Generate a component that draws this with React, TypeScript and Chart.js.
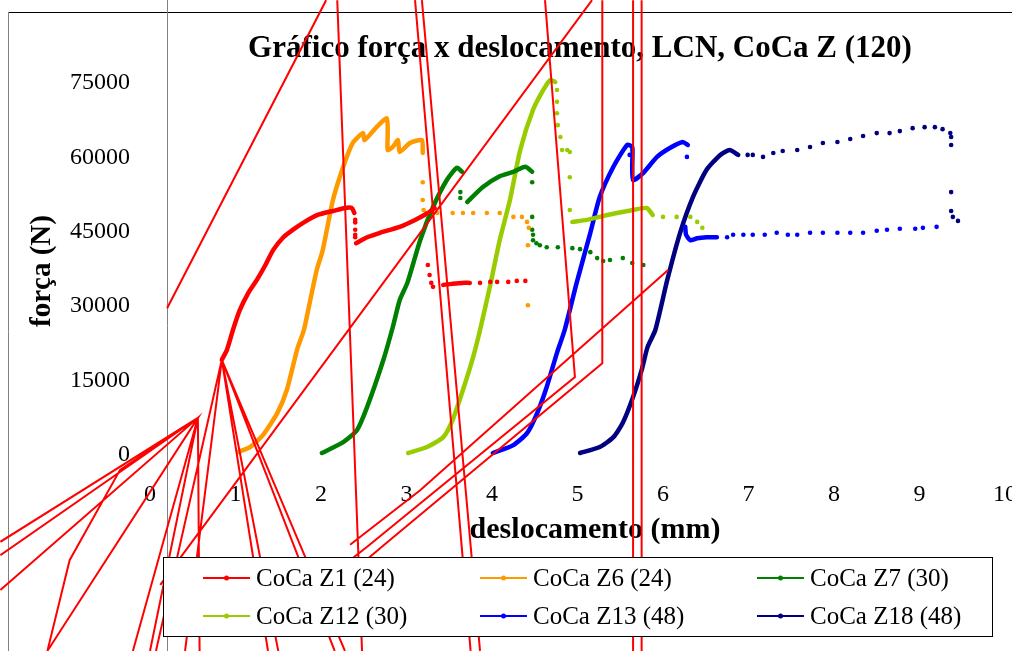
import React, { useEffect, useRef } from 'react';
import { Chart, registerables } from 'chart.js';

Chart.register(...registerables);

type P = [number, number] | null;

const chartTitle = 'Gráfico força x deslocamento, LCN, CoCa Z (120)';
const xTitle = 'deslocamento (mm)';
const yTitle = 'força (N)';
const xTicks = [0, 1, 2, 3, 4, 5, 6, 7, 8, 9, 10];
const yTicks = [0, 15000, 30000, 45000, 60000, 75000];
const seriesNames = ['CoCa Z1 (24)', 'CoCa Z6 (24)', 'CoCa Z7 (30)', 'CoCa Z12 (30)', 'CoCa Z13 (48)', 'CoCa Z18 (48)'];
const seriesColors = ['#FF0000', '#FF9900', '#008000', '#99CC00', '#0000FF', '#000080'];

// [deslocamento (mm), força (N)] ; null = break in the dense trace
const z1Curve: P[] = [
  [0.84, 19200], [0.90, 21200], [0.97, 25200], [1.05, 29200], [1.15, 32700], [1.25, 35300],
  [1.35, 38300], [1.44, 41300], [1.56, 43900], [1.67, 45400], [1.81, 47000], [1.96, 48400],
  [2.14, 49200], [2.28, 49800], [2.36, 49800], [2.39, 48800], null,
  [2.41, 42700], [2.54, 43900], [2.69, 44800], [2.92, 46000], [3.10, 47400], [3.25, 48800], [3.33, 49800], null,
  [3.43, 34300], [3.53, 34500], [3.65, 34700], [3.74, 34700],
];
const z1Dots: P[] = [
  [2.40, 47400], [2.40, 46900], [2.40, 45400], [2.40, 44400], [2.40, 43900],
  [3.25, 38300], [3.27, 36300], [3.29, 34700], [3.31, 33900],
  [3.86, 34700], [3.98, 34900], [4.06, 34900], [4.19, 34900], [4.29, 35100], [4.39, 35100],
];

const z6Curve: P[] = [
  [1.03, 600], [1.17, 1600], [1.32, 4000], [1.49, 8500], [1.60, 13100], [1.72, 21200], [1.80, 25200],
  [1.85, 29200], [1.95, 37300], [2.02, 41300], [2.14, 51400], [2.26, 58100], [2.37, 62900], [2.49, 64900],
  [2.51, 63500], [2.65, 66100], [2.77, 67900], [2.78, 64500], [2.78, 61500], [2.84, 62100], [2.90, 63500],
  [2.92, 61100], [3.04, 62900], [3.18, 63500], [3.19, 60900],
];
const z6Dots: P[] = [
  [3.19, 55000], [3.19, 51400], [3.20, 49400], [3.23, 48800], [3.36, 48800], [3.54, 48800], [3.66, 48800],
  [3.78, 48800], [3.94, 48800], [4.09, 48800], [4.25, 48000], [4.35, 48000], [4.41, 47000], [4.43, 45800],
  [4.42, 42300], [4.42, 30200],
];

const z7Curve: P[] = [
  [2.01, 400], [2.26, 2600], [2.42, 5000], [2.54, 9700], [2.73, 19200], [2.84, 25800], [2.92, 31200],
  [3.01, 34700], [3.16, 43300], [3.31, 50000], [3.47, 55400], [3.59, 57900], [3.65, 57100], null,
  [3.71, 51000], [3.89, 54000], [4.09, 56200], [4.25, 57100], [4.39, 58100], [4.47, 57100],
];
const z7Dots: P[] = [
  [3.63, 53000], [3.63, 51800], [4.47, 55000], [4.47, 48000], [4.47, 45400], [4.48, 44400], [4.48, 43300],
  [4.52, 42700], [4.56, 42300], [4.64, 41900], [4.77, 41900], [4.94, 41700], [5.03, 41500], [5.15, 40900],
  [5.23, 39700], [5.30, 39100], [5.38, 39300], [5.53, 39700], [5.64, 38700], [5.77, 38300],
];

const z12Curve: P[] = [
  [3.02, 400], [3.24, 1600], [3.43, 3600], [3.54, 7100], [3.66, 13100], [3.78, 19800], [3.86, 25200],
  [3.98, 34300], [4.09, 43300], [4.21, 51400], [4.33, 61500], [4.48, 69600], [4.60, 73600], [4.68, 75600],
  [4.74, 75200], null,
  [4.94, 47000], [5.11, 47400], [5.35, 48400], [5.65, 49400], [5.81, 49800], [5.88, 48400],
];
const z12Dots: P[] = [
  [4.76, 73600], [4.76, 71200], [4.76, 68900], [4.77, 66500], [4.80, 64100], [4.82, 61500], [4.88, 61500], [4.91, 61100],
  [4.91, 56000], [4.91, 49400], [6.00, 48000], [6.16, 48000], [6.32, 48000], [6.40, 47000], [6.46, 45800],
];

const z13Curve: P[] = [
  [4.01, 400], [4.25, 2000], [4.41, 4400], [4.53, 8500], [4.64, 13700], [4.76, 20600], [4.85, 25200],
  [4.99, 34700], [5.15, 44800], [5.26, 52000], [5.42, 58100], [5.58, 62500], [5.64, 62100], [5.64, 58100],
  [5.65, 55400], [5.77, 56900], [5.93, 60100], [6.08, 61900], [6.23, 63100], [6.29, 62500], null,
  [6.26, 46000], [6.27, 44400], [6.32, 43300], [6.40, 43700], [6.51, 43900], [6.63, 43900],
];
const z13Dots: P[] = [
  [5.61, 60500], [6.28, 60100], [6.75, 43900], [6.82, 44400], [6.94, 44400], [7.05, 44400], [7.19, 44400],
  [7.33, 44800], [7.46, 44400], [7.57, 44400], [7.72, 44800], [7.87, 44800], [8.04, 44800], [8.19, 44800],
  [8.34, 44800], [8.50, 45200], [8.62, 45400], [8.77, 45600], [8.95, 45600], [9.04, 45800], [9.20, 46000],
];

const z18Curve: P[] = [
  [5.03, 400], [5.26, 1600], [5.42, 3600], [5.53, 6500], [5.65, 11700], [5.75, 17100], [5.82, 21800],
  [5.91, 25200], [6.05, 35300], [6.20, 44800], [6.35, 52000], [6.51, 57500], [6.67, 60500], [6.78, 61500],
  [6.88, 60500],
];
const z18Dots: P[] = [
  [6.99, 60500], [7.05, 60500], [7.17, 60100], [7.29, 60900], [7.40, 61300], [7.57, 61500], [7.72, 62100],
  [7.87, 62900], [8.04, 63100], [8.19, 63700], [8.34, 64300], [8.50, 64900], [8.65, 64900], [8.77, 65300],
  [8.92, 65900], [9.06, 66100], [9.18, 66100], [9.27, 65700], [9.36, 64900], [9.37, 64100], [9.37, 62500],
  [9.37, 53000], [9.37, 49200], [9.39, 48000], [9.45, 47200],
];

// stray red strokes of the first series (off-scale points)
const z1Stray: P[] = [
  [0.20, 29600], [2.06, 91700], null,
  [2.19, 91700], [2.48, -39500], null,
  [3.10, 91700], [3.75, -39500], null,
  [3.18, 91700], [3.86, -39500], null,
  [4.62, 91700], [4.97, 15700], [2.54, -18500], [1.75, -29200], null,
  [5.29, 91700], [5.29, 18500], [2.81, -17100], [2.11, -27200], null,
  [5.65, 91700], [5.65, -39500], null,
  [5.75, 91700], [5.75, -39500], null,
  [6.06, 37300], [3.16, -7100], [2.34, -18100], null,
  [0.12, -26200], [5.17, 91700], null,
  [-1.75, -17500], [0.56, 7500], [-1.75, -20200], null,
  [-1.75, -27200], [0.56, 7500], [-1.20, -39500], null,
  [-0.20, -39500], [0.56, 7500], [0.00, -39500], null,
  [0.56, 7500], [0.58, -39500], null,
  [0.56, 7500], [-0.35, -3000], [-0.94, -21200], [-1.20, -39500], null,
  [1.38, -39500], [0.84, 19200], [1.50, -39500], null,
  [2.16, -39500], [0.84, 19200], [2.28, -39500], null,
  [0.07, -39500], [0.84, 19200], [0.41, -39500],
];

const curves = [z1Curve, z6Curve, z7Curve, z12Curve, z13Curve, z18Curve];
const dots = [z1Dots, z6Dots, z7Dots, z12Dots, z13Dots, z18Dots];

const FONT = '"Liberation Serif", "Times New Roman", serif';
const toXY = (arr: P[]) => arr.map((p) => (p ? { x: p[0], y: p[1] } : { x: null, y: null }));

const decor = {
  id: 'decor',
  beforeDatasetsDraw(chart: any) {
    const ctx = chart.ctx as CanvasRenderingContext2D;
    const a = chart.chartArea;
    ctx.save();
    ctx.lineWidth = 1;
    ctx.strokeStyle = '#000';
    ctx.beginPath();
    ctx.moveTo(8, 12.5);
    ctx.lineTo(chart.width, 12.5);
    ctx.stroke();
    ctx.strokeStyle = '#808080';
    ctx.beginPath();
    ctx.moveTo(8.5, 12);
    ctx.lineTo(8.5, chart.height);
    ctx.moveTo(a.left + 17.5, 0);
    ctx.lineTo(a.left + 17.5, chart.height);
    ctx.stroke();

    ctx.fillStyle = '#000';
    ctx.textBaseline = 'alphabetic';
    ctx.textAlign = 'center';
    ctx.font = `bold 31px ${FONT}`;
    ctx.fillText(chartTitle, a.left + 430, 57);
    ctx.font = `bold 30px ${FONT}`;
    ctx.fillText(xTitle, a.left + 445, a.bottom + 83);
    ctx.translate(50, (a.top + a.bottom) / 2 + 2);
    ctx.rotate(-Math.PI / 2);
    ctx.font = `bold 29px ${FONT}`;
    ctx.fillText(yTitle, 0, 0);
    ctx.restore();
  },
  afterDraw(chart: any) {
    const ctx = chart.ctx as CanvasRenderingContext2D;
    ctx.save();
    ctx.fillStyle = '#fff';
    ctx.fillRect(163, 557, 829, 79);
    ctx.strokeStyle = '#000';
    ctx.lineWidth = 1;
    ctx.strokeRect(163.5, 557.5, 829, 79);
    const cols = [203, 480, 757];
    const rows = [578, 616];
    ctx.font = `25px ${FONT}`;
    ctx.textAlign = 'left';
    ctx.textBaseline = 'alphabetic';
    seriesNames.forEach((name, i) => {
      const x = cols[i % 3];
      const y = rows[Math.floor(i / 3)];
      ctx.strokeStyle = seriesColors[i];
      ctx.lineWidth = 2;
      ctx.beginPath();
      ctx.moveTo(x, y);
      ctx.lineTo(x + 47, y);
      ctx.stroke();
      ctx.fillStyle = seriesColors[i];
      ctx.beginPath();
      ctx.arc(x + 23.5, y, 2.5, 0, Math.PI * 2);
      ctx.fill();
      ctx.fillStyle = '#000';
      ctx.fillText(name, x + 53, y + 8);
    });
    ctx.restore();
  },
};

export default function App() {
  const ref = useRef<HTMLCanvasElement>(null);
  useEffect(() => {
    const datasets: any[] = [
      {
        label: 'stray',
        data: toXY(z1Stray),
        showLine: true,
        borderColor: '#FF0000',
        backgroundColor: '#FF0000',
        borderWidth: 2,
        pointRadius: 0,
        pointHoverRadius: 0,
        clip: false,
        spanGaps: false,
      },
    ];
    seriesNames.forEach((name, i) => {
      datasets.push({
        label: name,
        data: toXY(curves[i]),
        showLine: true,
        borderColor: seriesColors[i],
        backgroundColor: seriesColors[i],
        borderWidth: 4.5,
        borderJoinStyle: 'round',
        borderCapStyle: 'round',
        tension: 0.2,
        pointRadius: 0,
        pointHoverRadius: 0,
        clip: false,
        spanGaps: false,
      });
      datasets.push({
        label: name + ' ',
        data: toXY(dots[i]),
        showLine: false,
        borderColor: seriesColors[i],
        backgroundColor: seriesColors[i],
        borderWidth: 0,
        pointRadius: 2.3,
        pointHoverRadius: 2.3,
        clip: false,
      });
    });
    const chart = new Chart(ref.current!, {
      type: 'scatter',
      data: { datasets },
      plugins: [decor],
      options: {
        animation: false,
        responsive: false,
        devicePixelRatio: 1,
        layout: { padding: { left: 0, right: 7, top: 83, bottom: 0 } },
        plugins: { legend: { display: false }, tooltip: { enabled: false }, title: { display: false } },
        scales: {
          x: {
            type: 'linear',
            min: xTicks[0],
            max: xTicks[xTicks.length - 1],
            grid: { display: false, drawTicks: false },
            border: { display: false },
            afterBuildTicks: (s: any) => { s.ticks = xTicks.map((v) => ({ value: v })); },
            afterFit: (s: any) => { s.height = 196; s.paddingLeft = 0; s.paddingRight = 0; },
            ticks: {
              color: '#000',
              padding: 25,
              maxRotation: 0,
              font: { family: FONT, size: 24 },
              callback: (v: any) => String(v),
            },
          },
          y: {
            type: 'linear',
            min: yTicks[0],
            max: yTicks[yTicks.length - 1],
            grid: { display: false, drawTicks: false },
            border: { display: false },
            afterBuildTicks: (s: any) => { s.ticks = yTicks.map((v) => ({ value: v })); },
            afterFit: (s: any) => { s.width = 150; s.paddingTop = 0; s.paddingBottom = 0; },
            ticks: {
              color: '#000',
              padding: 20,
              font: { family: FONT, size: 24 },
              callback: (v: any) => String(v),
            },
          },
        },
      } as any,
    });
    return () => chart.destroy();
  }, []);
  return (
    <div style={{ position: 'fixed', left: 0, top: 0, width: 1012, height: 651, background: '#fff' }}>
      <canvas ref={ref} width={1012} height={651} style={{ display: 'block', width: 1012, height: 651 }} />
    </div>
  );
}
